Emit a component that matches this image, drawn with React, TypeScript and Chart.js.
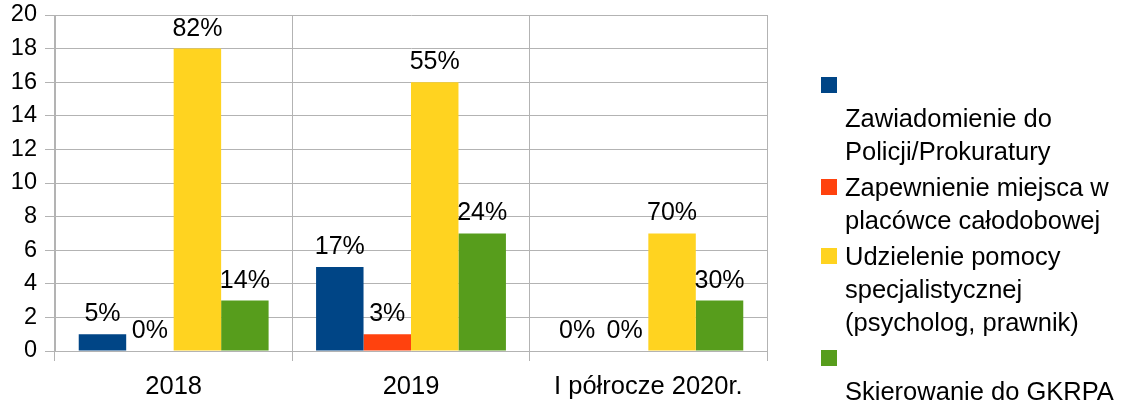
import React, { useEffect, useRef } from "react";
import { Chart, registerables } from "chart.js";

Chart.register(...registerables);

const categories = ["2018", "2019", "I półrocze 2020r."];

const seriesNames = [
  "Zawiadomienie do Policji/Prokuratury",
  "Zapewnienie miejsca w placówce całodobowej",
  "Udzielenie pomocy specjalistycznej (psycholog, prawnik)",
  "Skierowanie do GKRPA",
];

const zawiadomienie = [1, 5, 0];
const zapewnienie = [0, 1, 0];
const udzielenie = [18, 16, 7];
const skierowanie = [3, 7, 3];

const zawiadomieniePct = ["5%", "17%", "0%"];
const zapewnieniePct = ["0%", "3%", "0%"];
const udzieleniePct = ["82%", "55%", "70%"];
const skierowaniePct = ["14%", "24%", "30%"];

const legendLines = [
  ["", "Zawiadomienie do", "Policji/Prokuratury"],
  ["Zapewnienie miejsca w", "placówce całodobowej"],
  ["Udzielenie pomocy", "specjalistycznej", "(psycholog, prawnik)"],
  ["", "Skierowanie do GKRPA"],
];

const colors = ["#004586", "#ff420e", "#ffd320", "#579d1c"];

const yMin = 0;
const yMax = 20;
const yStep = 2;

const FONT = "'Liberation Sans', Arial, sans-serif";
const GRID = "#b3b3b3";

const valueLabels = [zawiadomieniePct, zapewnieniePct, udzieleniePct, skierowaniePct];

const valueLabelPlugin = {
  id: "valueLabels",
  afterDatasetsDraw(chart: any) {
    const ctx = chart.ctx;
    ctx.save();
    ctx.font = `25px ${FONT}`;
    ctx.fillStyle = "#000";
    ctx.textAlign = "center";
    ctx.textBaseline = "alphabetic";
    chart.data.datasets.forEach((ds: any, di: number) => {
      const meta = chart.getDatasetMeta(di);
      meta.data.forEach((el: any, i: number) => {
        const txt = valueLabels[di][i];
        ctx.fillText(txt, el.x, el.y - 13);
      });
    });
    ctx.restore();
  },
};

export default function App() {
  const canvasRef = useRef<HTMLCanvasElement | null>(null);

  useEffect(() => {
    document.body.style.margin = "0";
    const canvas = canvasRef.current;
    if (!canvas) return;
    const seriesData = [zawiadomienie, zapewnienie, udzielenie, skierowanie];
    const chart = new Chart(canvas, {
      type: "bar",
      data: {
        labels: categories,
        datasets: seriesData.map((d, i) => ({
          label: seriesNames[i],
          data: d,
          backgroundColor: colors[i],
          borderWidth: 0,
          barPercentage: 1,
          categoryPercentage: 0.8,
        })),
      },
      options: {
        responsive: true,
        maintainAspectRatio: false,
        animation: false,
        layout: { padding: { top: 15, right: 356, bottom: 0, left: 0 } },
        plugins: {
          legend: { display: false },
          tooltip: { enabled: false },
          title: { display: false },
        },
        scales: {
          x: {
            grid: { color: GRID, offset: true, tickLength: 10, drawTicks: true },
            border: { display: true, color: GRID },
            ticks: { font: { family: FONT, size: 25.5 }, color: "#000", padding: 11 },
            afterFit: (s: any) => {
              s.height = 50;
              s.paddingLeft = 0;
              s.paddingRight = 0;
            },
          },
          y: {
            min: yMin,
            max: yMax,
            ticks: {
              stepSize: yStep,
              font: { family: FONT, size: 23.5 },
              color: "#000",
              padding: 8,
            },
            grid: { color: GRID, tickLength: 10 },
            border: { display: true, color: GRID },
            afterFit: (s: any) => {
              s.width = 55;
              s.paddingTop = 0;
              s.paddingBottom = 0;
            },
          },
        },
      },
      plugins: [valueLabelPlugin],
    });
    return () => chart.destroy();
  }, []);

  return (
    <div style={{ position: "fixed", left: 0, top: 0, width: 1123, height: 401, background: "#fff" }}>
      <canvas ref={canvasRef} />
      <div
        style={{
          position: "absolute",
          left: 821,
          top: 69,
          fontFamily: FONT,
          fontSize: 25.5,
          lineHeight: "33px",
          color: "#000",
        }}
      >
        {legendLines.map((lines, i) => (
          <div key={i} style={{ position: "relative", marginBottom: 3 }}>
            <div
              style={{
                position: "absolute",
                left: 0,
                top: 8,
                width: 16,
                height: 16,
                background: colors[i],
              }}
            />
            <div style={{ marginLeft: 24, whiteSpace: "nowrap" }}>
              {lines.map((l, j) => (
                <div key={j} style={{ height: 33 }}>
                  {l}
                </div>
              ))}
            </div>
          </div>
        ))}
      </div>
    </div>
  );
}
